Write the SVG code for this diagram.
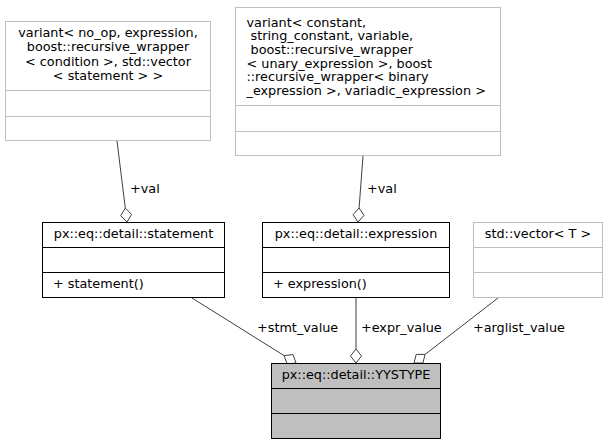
<svg xmlns="http://www.w3.org/2000/svg" width="608" height="445" viewBox="0 0 608 445">
<style>
text{font-family:"DejaVu Sans",sans-serif;font-size:12.8px;fill:#000}
.c{text-anchor:middle}
.box{fill:#fff;stroke:#000;stroke-width:1}
.gbox{fill:#fff;stroke:#bfbfbf;stroke-width:1}
.main{fill:#bfbfbf;stroke:#000;stroke-width:1}
.e{fill:none;stroke:#404040;stroke-width:1}
.d{fill:#fff;stroke:#404040;stroke-width:1}
</style>
<rect width="608" height="445" fill="#fff"/>
<g id="connectors">
<path class="e" d="M117,141 L125.3,208.1"/>
<polygon class="d" points="125.3,208.1 131.6,214.4 127,222 120.7,215.7"/>
<text x="130" y="193">+val</text>
<path class="e" d="M363,156 L359.1,208"/>
<polygon class="d" points="359.1,208 364,215.4 358,222 353.1,214.6"/>
<text x="367" y="193">+val</text>
<path class="e" d="M192,298 L284.1,355.6"/>
<polygon class="d" points="284.1,355.6 293,354.6 296,363 287.1,364"/>
<text x="257" y="332">+stmt_value</text>
<path class="e" d="M356,298 L356,349"/>
<polygon class="d" points="356,349 361.5,356 356,363 350.5,356"/>
<text x="361" y="332">+expr_value</text>
<path class="e" d="M498,298 L425.1,354.4"/>
<polygon class="d" points="425.1,354.4 422.9,363 414,363 416.2,354.4"/>
<text x="473" y="332">+arglist_value</text>
</g>
<g id="variant_statement">
<rect class="gbox" x="5.5" y="21.5" width="205" height="119"/>
<path class="gbox" d="M5.5,90.5 H210.5 M5.5,116.5 H210.5"/>
<text class="c" x="108" y="37">variant&lt; no_op, expression,</text>
<text class="c" x="108" y="51.3"> boost::recursive_wrapper</text>
<text class="c" x="108" y="65.7">&lt; condition &gt;, std::vector</text>
<text class="c" x="108" y="80">&lt; statement &gt; &gt;</text>
</g>
<g id="variant_expression">
<rect class="gbox" x="235.5" y="7.5" width="265" height="148"/>
<path class="gbox" d="M235.5,105.5 H500.5 M235.5,131.5 H500.5"/>
<text x="246.5" y="26.5">variant&lt; constant,</text>
<text x="246.5" y="40.2" xml:space="preserve"> string_constant, variable,</text>
<text x="246.5" y="53.9" xml:space="preserve"> boost::recursive_wrapper</text>
<text x="246.5" y="67.6">&lt; unary_expression &gt;, boost</text>
<text x="246.5" y="81.3">::recursive_wrapper&lt; binary</text>
<text x="246.5" y="95">_expression &gt;, variadic_expression &gt;</text>
</g>
<g id="statement">
<rect class="box" x="42.5" y="222.5" width="182" height="75"/>
<path class="box" d="M42.5,247.5 H224.5 M42.5,272.5 H224.5"/>
<text class="c" x="133.5" y="238">px::eq::detail::statement</text>
<text x="53" y="288">+ statement()</text>
</g>
<g id="expression">
<rect class="box" x="262.5" y="222.5" width="187" height="75"/>
<path class="box" d="M262.5,247.5 H449.5 M262.5,272.5 H449.5"/>
<text class="c" x="356" y="238">px::eq::detail::expression</text>
<text x="273" y="288">+ expression()</text>
</g>
<g id="vector">
<rect class="gbox" x="473.5" y="222.5" width="129" height="75"/>
<path class="gbox" d="M473.5,247.5 H602.5 M473.5,272.5 H602.5"/>
<text class="c" x="538" y="238">std::vector&lt; T &gt;</text>
</g>
<g id="yystype">
<rect class="main" x="271.5" y="363.5" width="169" height="75"/>
<path class="main" d="M271.5,388.5 H440.5 M271.5,413.5 H440.5"/>
<text class="c" x="356" y="379">px::eq::detail::YYSTYPE</text>
</g>
</svg>
